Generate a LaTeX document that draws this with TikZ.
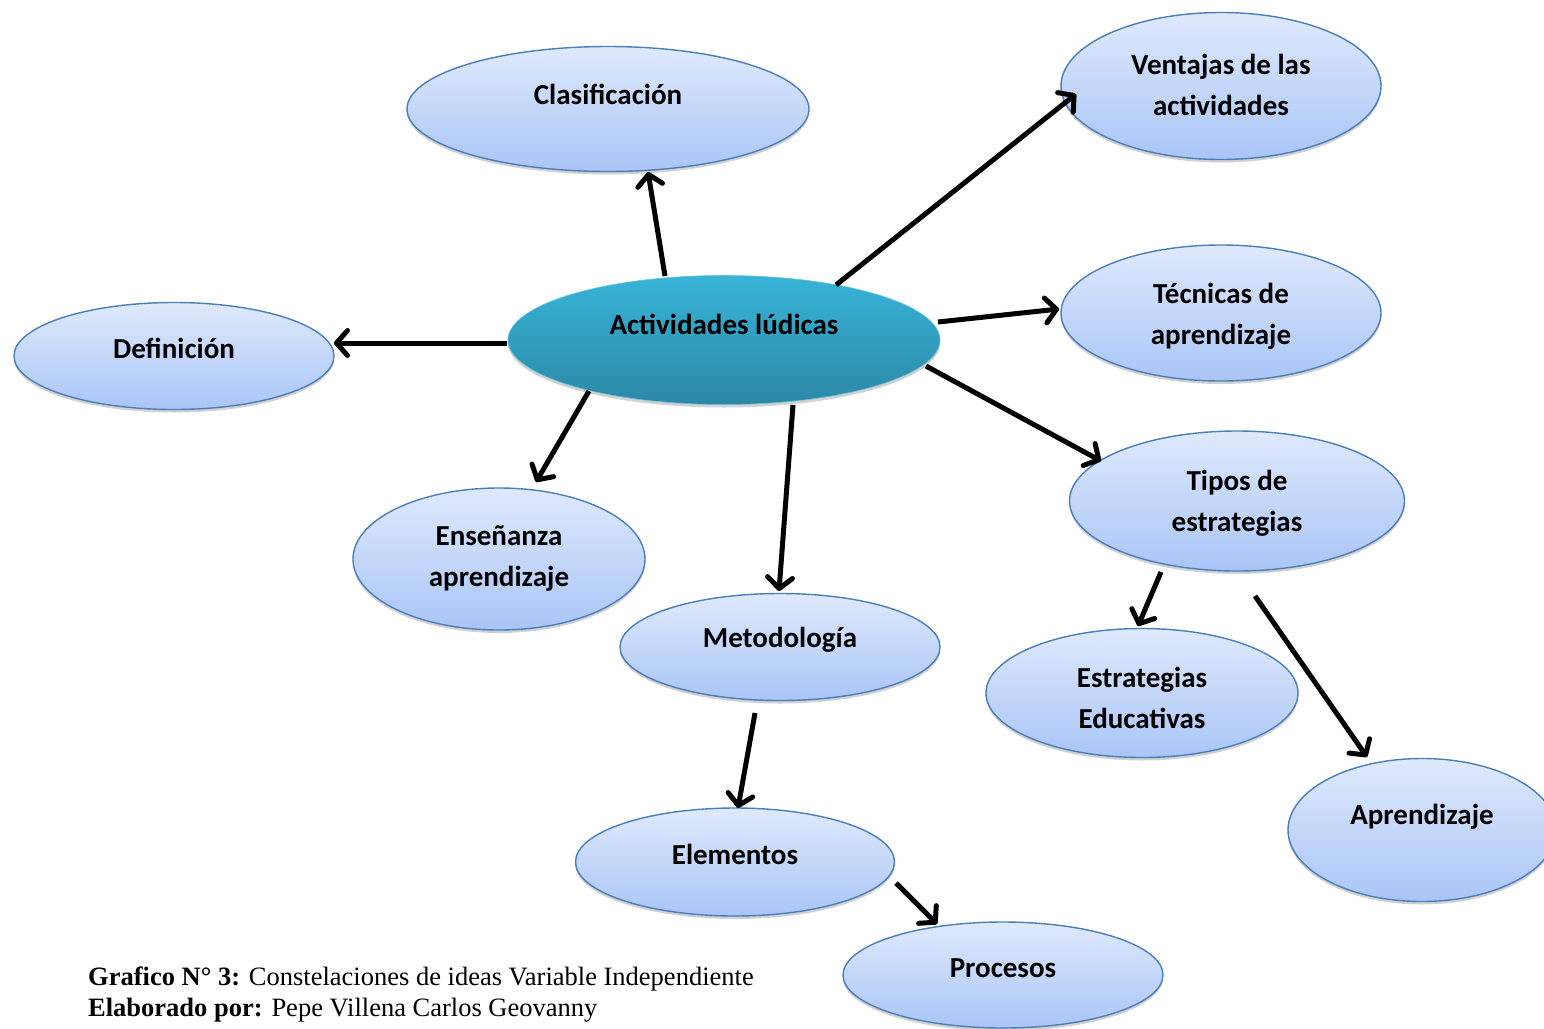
\documentclass[tikz,border=0pt]{standalone}
\usepackage{fontspec}
\setmainfont{Liberation Serif}
\newfontfamily\calib{Carlito}
\usetikzlibrary{shapes.geometric,arrows.meta,shadows,calc}
\definecolor{bubtop}{HTML}{DFE9FC}
\definecolor{bubbot}{HTML}{A9C5F7}
\definecolor{bubline}{HTML}{4A7EBB}
\definecolor{centop}{HTML}{38B4D8}
\definecolor{cenbot}{HTML}{2C88A5}
\tikzset{
  bubble/.style={ellipse, draw=bubline, line width=1.4pt, top color=bubtop, bottom color=bubbot,
    inner sep=0pt, drop shadow={shadow xshift=0pt, shadow yshift=-3pt, opacity=0.3, fill=black!60}},
  central/.style={ellipse, draw=centop!80!white, line width=0.6pt, top color=centop, bottom color=cenbot,
    inner sep=0pt, drop shadow={shadow xshift=0pt, shadow yshift=-3pt, opacity=0.3, fill=black!60}},
  lbl/.style={font=\calib\bfseries\fontsize{29}{41}\selectfont, align=center, inner sep=0pt, text=black},
  arr/.style={line width=5pt, black, -{Straight Barb[length=11pt,width=25pt,round]}},
}
\begin{document}
\begin{tikzpicture}[x=1pt,y=-1pt]
\useasboundingbox (0,0) rectangle (1544,1028);
% ellipses
\node[bubble, minimum width=402pt, minimum height=125pt] (clas) at (608,109) {};
\node[bubble, minimum width=320pt, minimum height=147pt] (vent) at (1221,86) {};
\node[bubble, minimum width=320pt, minimum height=107pt] (def) at (174,356) {};
\node[bubble, minimum width=320pt, minimum height=136pt] (tec) at (1221,313) {};
\node[bubble, minimum width=335pt, minimum height=140pt] (tipos) at (1237,501) {};
\node[bubble, minimum width=292pt, minimum height=142pt] (ens) at (499,559) {};
\node[bubble, minimum width=320pt, minimum height=107pt] (met) at (780,647) {};
\node[bubble, minimum width=312pt, minimum height=129pt] (est) at (1142,693) {};
\node[bubble, minimum width=268pt, minimum height=143pt] (apr) at (1422,830) {};
\node[bubble, minimum width=319pt, minimum height=108pt] (elem) at (735,862) {};
\node[bubble, minimum width=320pt, minimum height=106pt] (proc) at (1003,975) {};
\node[central, minimum width=432pt, minimum height=129pt] (cen) at (724,340) {};
% labels
\node[lbl] (clasT) at (608,94) {Clasificación};
\node[lbl] (ventT) at (1221,85) {Ventajas de las\\actividades};
\node[lbl] (defT) at (174,348) {Definición};
\node[lbl] (tecT) at (1221,316) {Técnicas de\\aprendizaje};
\node[lbl] (tiposT) at (1237,503) {Tipos de\\estrategias};
\node[lbl] (ensT) at (499,559) {Enseñanza\\aprendizaje};
\node[lbl] (metT) at (780,640) {Metodología};
\node[lbl] (estT) at (1142,698) {Estrategias\\Educativas};
\node[lbl] (aprT) at (1422,817) {Aprendizaje};
\node[lbl] (elemT) at (735,854) {Elementos};
\node[lbl] (procT) at (1003,968) {Procesos};
\node[lbl] (cenT) at (724,324) {Actividades lúdicas};
% arrows
\draw[arr] ($(cen)+(-59,-64)$) -- ($(clas)+(40,63)$);
\draw[arr] ($(cen)+(112,-55)$) -- ($(vent)+(-145,8)$);
\draw[arr] ($(cen)+(-217,3)$) -- ($(def)+(160,-13)$);
\draw[arr] ($(cen)+(214,-18)$) -- ($(tec)+(-162,-4)$);
\draw[arr] ($(cen)+(202,26)$) -- ($(tipos)+(-136,-40)$);
\draw[arr] ($(cen)+(-135,51)$) -- ($(ens)+(37,-77)$);
\draw[arr] ($(cen)+(69,65)$) -- ($(met)+(-1,-56)$);
\draw[arr] ($(tipos)+(-76,71)$) -- ($(est)+(-4,-67)$);
\draw[arr] ($(tipos)+(18,95)$) -- ($(apr)+(-55,-73)$);
\draw[arr] ($(met)+(-25,66)$) -- ($(elem)+(3,-54)$);
\draw[arr] ($(elem)+(161,21)$) -- ($(proc)+(-66,-51)$);
% caption
\node[anchor=base west, font=\fontsize{26.5}{31}\selectfont, inner sep=0pt, align=left] (cap) at (88,1016)
  {\textbf{Grafico N° 3:} Constelaciones de ideas Variable Independiente\\\textbf{Elaborado por:} Pepe Villena Carlos Geovanny};
\end{tikzpicture}
\end{document}
